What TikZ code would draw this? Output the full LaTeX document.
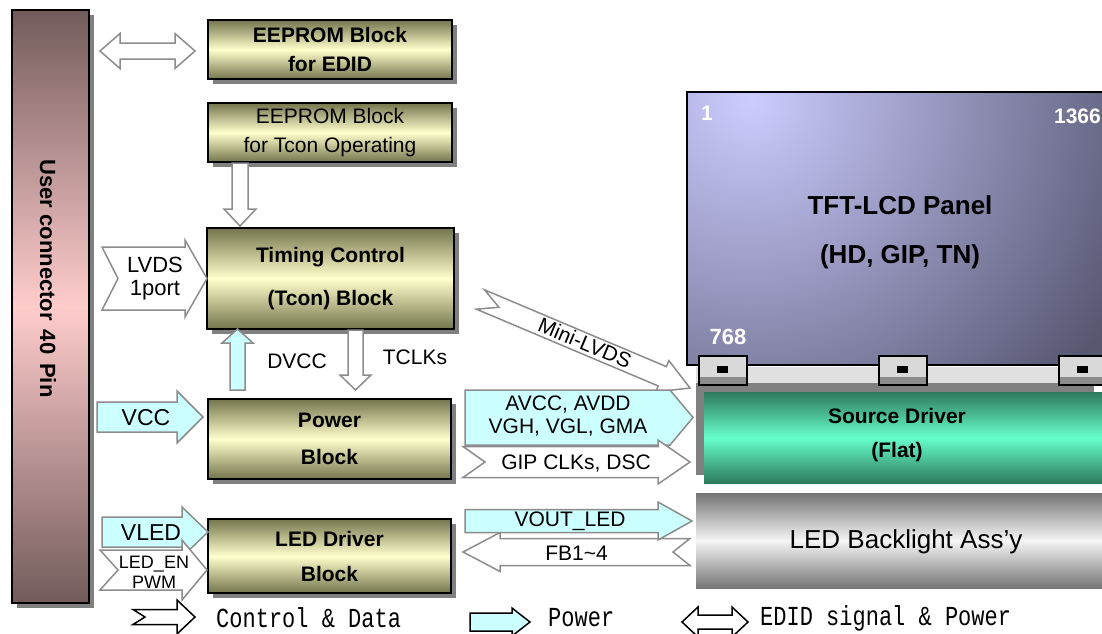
\documentclass[tikz,border=0pt]{standalone}
\usepackage{fontspec}
\setmainfont{Liberation Sans}
\newfontfamily\legendfont{Liberation Mono}
\usetikzlibrary{shadows}

\definecolor{olivedark}{HTML}{75754E}
\definecolor{paleyellow}{HTML}{FFFFCC}
\definecolor{mauve}{HTML}{735B5B}
\definecolor{pinklight}{HTML}{FFCCCC}
\definecolor{pwrcyan}{HTML}{CCFFFF}
\definecolor{arrowgrey}{HTML}{8C8C8C}
\definecolor{panellight}{HTML}{CCCCFF}
\definecolor{paneldark}{HTML}{575772}
\definecolor{sddark}{HTML}{2E7A5C}
\definecolor{sdlight}{HTML}{66FFCC}
\definecolor{bldark}{HTML}{757575}
\definecolor{bllight}{HTML}{F5F5F5}

\newcommand\fs[2]{\fontsize{#1}{#2}\selectfont}

\tikzset{
  hardshadow/.style={drop shadow={shadow xshift=5pt,shadow yshift=-5pt,fill=black!50,opacity=1}},
  block/.style={draw=black, line width=2pt, top color=olivedark, bottom color=olivedark,
    middle color=paleyellow, inner sep=0pt, align=center, hardshadow},
  sigarrow/.style={draw=arrowgrey, line width=1.5pt, fill=white},
  pwrarrow/.style={draw=arrowgrey, line width=1.5pt, fill=pwrcyan},
  lbl/.style={inner sep=0pt, align=center},
  % block arrow along local +x: length / half body / half head / head length / tail notch
  pics/barrow/.style args={#1/#2/#3/#4/#5}{code={
    \path[pic actions] (0,-#2) -- ({#1-#4},-#2) -- ({#1-#4},-#3) -- (#1,0)
      -- ({#1-#4},#3) -- ({#1-#4},#2) -- (0,#2) -- (#5,0) -- cycle;
  }},
  % double-headed block arrow: length / half body / half head / head length
  pics/dbarrow/.style args={#1/#2/#3/#4}{code={
    \path[pic actions] (0,0) -- (#4,-#3) -- (#4,-#2) -- ({#1-#4},-#2) -- ({#1-#4},-#3)
      -- (#1,0) -- ({#1-#4},#3) -- ({#1-#4},#2) -- (#4,#2) -- (#4,#3) -- cycle;
  }},
}

\begin{document}
\begin{tikzpicture}[x=1pt,y=-1pt]
\useasboundingbox (0,0) rectangle (1102,633);
\begin{scope}
\clip (0,0) rectangle (1102,633);

% ---- user connector ----
\node[draw=black, line width=2pt, top color=mauve, bottom color=mauve, middle color=pinklight,
      minimum width=77pt, minimum height=593pt, inner sep=0pt, hardshadow]
      (conn) at (50.5,306.5) {};
\node[lbl, rotate=-90, font=\bfseries\fs{22}{22}] (connlbl) at (48,278.5)
      {User connector\hspace{9pt}40\hspace{9pt}Pin};

% ---- functional blocks ----
\node[block, minimum width=244pt, minimum height=59pt, font=\bfseries\fs{21}{29}]
      (eedid) at (330,49.5) {EEPROM Block\\for EDID};
\node[block, minimum width=244pt, minimum height=59pt, font=\fs{21}{29}]
      (eetcon) at (330,132.5) {EEPROM Block\\for Tcon Operating};
\node[block, minimum width=247pt, minimum height=101pt, font=\bfseries\fs{21}{43}]
      (tcon) at (330.5,278.5) {Timing Control\\(Tcon) Block};
\node[block, minimum width=243pt, minimum height=80pt, font=\bfseries\fs{21}{37}]
      (power) at (329.5,439) {Power\\Block};
\node[block, minimum width=243pt, minimum height=74pt, font=\bfseries\fs{21}{35}]
      (led) at (329.5,556) {LED Driver\\Block};

% ---- panel assembly ----
\fill[black!12] (696,367) rectangle (1102,384);
\begin{scope}
  \clip (687,92) rectangle (1112,365);
  \fill[paneldark] (687,92) rectangle (1112,365);
  \shade[inner color=panellight, outer color=paneldark] (750,100) circle (420);
\end{scope}
\node[draw=black, line width=2pt, minimum width=425pt, minimum height=273pt, inner sep=0pt]
      (panel) at (899.5,228.5) {};
\node[lbl, font=\bfseries\fs{26}{49}] (paneltxt) at (900,232.5) {TFT-LCD Panel\\(HD, GIP, TN)};
\node[lbl, font=\bfseries\fs{21}{21}, text=white] (pix1) at (707,113) {1};
\node[lbl, anchor=east, font=\bfseries\fs{21}{21}, text=white] (pix1366) at (1101,116) {1366};
\node[lbl, font=\bfseries\fs{22}{22}, text=white] (pix768) at (728,337) {768};

\fill[black!50] (696,383) rectangle (1094,475);
\node[top color=sddark, bottom color=sddark, middle color=sdlight,
      minimum width=406pt, minimum height=91pt, inner sep=0pt] (srcdrv) at (907,437.5) {};
\node[lbl, font=\bfseries\fs{21}{34}] (srctxt) at (897,435) {Source Driver\\(Flat)};

\node[top color=bldark, bottom color=bldark, middle color=bllight,
      minimum width=414pt, minimum height=95pt, inner sep=0pt] (blu) at (903,540.5) {};
\node[lbl, font=\fs{26}{26}] (blutxt) at (906,542) {LED Backlight Ass’y};

% tape carrier pads along the panel edge
\foreach \px in {699,879,1059}{
  \fill[black!15] (\px,356) rectangle (\px+48,385);
  \fill[black!45] (\px,377) rectangle (\px+48,385);
  \fill[black] (\px+18,366) rectangle (\px+29,373);
  \draw[line width=1.2pt] (\px,356) rectangle (\px+48,385);
}

% ---- signal and power arrows ----
\pic[sigarrow] at (100,51) {dbarrow=95/8/17.5/20};
\pic[sigarrow, rotate=-90] at (240,163) {barrow=63/8/16/17/0};
\pic[sigarrow] at (102,278.5) {barrow=105/31.5/38.5/22/16};
\node[lbl, font=\fs{22}{23}] (lvdslbl) at (155,278.5) {LVDS\\1port};

\pic[pwrarrow, rotate=90] at (237.5,390) {barrow=61/7.5/15.5/14/0};
\node[lbl, font=\fs{21}{21}] (dvcclbl) at (297,361) {DVCC};
\pic[sigarrow, rotate=-90] at (355.5,330) {barrow=60/7.5/15.5/15/0};
\node[lbl, font=\fs{21}{21}] (tclklbl) at (415,357.5) {TCLKs};

\pic[pwrarrow] at (97,417) {barrow=106/15/26/26/0};
\node[lbl, font=\fs{23}{23}] (vcclbl) at (146,418) {VCC};

\pic[pwrarrow] at (102,532) {barrow=106/15/25/26/0};
\node[lbl, font=\fs{23}{23}] (vledlbl) at (151,533) {VLED};
\pic[sigarrow] at (100,570) {barrow=107/20/30/25/18};
\node[lbl, font=\fs{18}{20}] (ledenlbl) at (154,572) {LED\_EN\\PWM};

\pic[sigarrow, rotate=-22.9] at (480.5,299.5) {barrow=227.4/10.5/17/30/20};
\node[lbl, rotate=-22.9, font=\fs{21}{21}] (minilbl) at (585,343) {Mini-LVDS};

\pic[pwrarrow] at (465,417.5) {barrow=228/27.5/27.5/23/0};
\node[lbl, font=\fs{21}{23}] (avcclbl) at (568,416.5) {AVCC, AVDD\\VGH, VGL, GMA};
\pic[sigarrow] at (463,462) {barrow=227/15.5/22/32/22};
\node[lbl, font=\fs{21}{21}] (giplbl) at (576,463) {GIP CLKs, DSC};

\pic[sigarrow, rotate=180] at (690,552) {barrow=227/13.5/19.5/37/17};
\node[lbl, font=\fs{21}{21}] (fblbl) at (576.5,553.5) {FB1\textasciitilde 4};
\pic[pwrarrow] at (465,521) {barrow=227/11.5/19/34/0};
\node[lbl, font=\fs{21}{21}] (voutlbl) at (570,521) {VOUT\_LED};

% ---- legend ----
\pic[draw=black, line width=1.5pt, fill=white] at (133,617) {barrow=62/7.5/17/18/12};
\node[lbl, anchor=west, font=\legendfont\fs{22}{22}] (lgctrl) at (216,618) {\scalebox{1}[1.25]{Control \& Data}};
\pic[draw=black, line width=1.5pt, fill=pwrcyan] at (470,622) {barrow=60/9/14/18/0};
\node[lbl, anchor=west, font=\legendfont\fs{22}{22}] (lgpwr) at (548,618) {\scalebox{1}[1.25]{Power}};
\pic[draw=black, line width=1.5pt, fill=white] at (682,622) {dbarrow=66/7/15/16};
\node[lbl, anchor=west, font=\legendfont\fs{22}{22}] (lgedid) at (760,618) {\scalebox{1}[1.25]{EDID signal \& Power}};
\end{scope}
\end{tikzpicture}
\end{document}
